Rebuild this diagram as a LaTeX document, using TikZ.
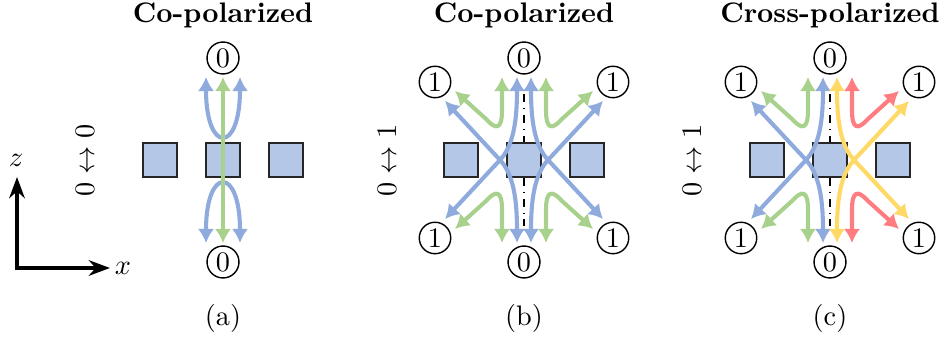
\documentclass[tikz,border=0pt]{standalone}
\usetikzlibrary{arrows.meta}

\definecolor{beamblue}{HTML}{8FAADC}
\definecolor{beamgreen}{HTML}{A9D18E}
\definecolor{beamred}{HTML}{FF7C80}
\definecolor{beamyellow}{HTML}{FFD966}
\definecolor{cellfill}{HTML}{B4C7E7}

\tikzset{
  cell/.style={draw=black!85, fill=cellfill, line width=0.6pt,
    minimum size=12pt, inner sep=0pt},
  port/.style={draw, circle, inner sep=1pt, line width=0.5pt, fill=white},
  beam/.style={line width=1.45pt,
    arrows={Latex[length=5pt,width=5.8pt]-Latex[length=5pt,width=5.8pt]}},
  paneltitle/.style={font=\bfseries},
  axisline/.style={line width=1.3pt,
    arrows={Stealth[length=7.5pt,width=5.5pt]-Stealth[length=7.5pt,width=5.5pt]}},
  symline/.style={dash dot, line width=0.4pt},
}

% one side of a panel: a long crossing beam (#1) and a short hooked beam (#2),
% each drawn upwards and mirrored downwards
\newcommand{\beampair}[2]{%
  \foreach \s in {1,-1}{%
    \begin{scope}[yscale=\s]
      \draw[beam,#1] (-7,-83) .. controls (-7,-40) and (-10.4,-14.6) .. (-24,0) -- (-79,59);
      \draw[beam,#2] (-22,-83) -- (-22,-50) .. controls (-22,-30) and (-28,-30) .. (-38,-41) -- (-69,-69);
    \end{scope}}}

% the three cells of a panel, named with a prefix
\newcommand{\cellrow}[1]{%
  \node[cell] (#1-left) at (-63,0) {};
  \node[cell] (#1-mid) at (0,0) {};
  \node[cell] (#1-right) at (63,0) {};}

\begin{document}
\begin{tikzpicture}[x=0.354pt, y=-0.354pt]
\useasboundingbox (0,0) rectangle (947,341);

% coordinate axes
\coordinate (origin) at (17,268);
\coordinate (ztip) at (17,177);
\coordinate (xtip) at (110,268);
\draw[axisline] (ztip) -- (origin) -- (xtip);
\node (zlabel) at (16,160) {$z$};
\node (xlabel) at (123,268) {$x$};

% panel (a)
\node[paneltitle] (title-a) at (223,15) {Co-polarized};
\node[rotate=90] (order-a) at (85,160) {$0\leftrightarrow0$};
\node (cap-a) at (223,318) {(a)};
\begin{scope}[shift={(223,160)}]
  \cellrow{a}
  \draw[beam,beamblue] (-17,-83) .. controls (-17,-6) and (17,-6) .. (17,-83);
  \draw[beam,beamblue] (-17,83) .. controls (-17,6) and (17,6) .. (17,83);
  \draw[beam,beamgreen] (0,83) -- (0,-83);
  \node[port] (a-top) at (0,-102) {0};
  \node[port] (a-bot) at (0,102) {0};
\end{scope}

% panel (b)
\node[paneltitle] (title-b) at (524,15) {Co-polarized};
\node[rotate=90] (order-b) at (387,160) {$0\leftrightarrow1$};
\node (cap-b) at (524,318) {(b)};
\begin{scope}[shift={(524,160)}]
  \draw[symline] (0,-66) -- (0,66);
  \cellrow{b}
  \beampair{beamblue}{beamgreen}
  \begin{scope}[xscale=-1]
    \beampair{beamblue}{beamgreen}
  \end{scope}
  \node[port] (b-top) at (0,-102) {0};
  \node[port] (b-bot) at (0,102) {0};
  \node[port] (b-tl) at (-89,-78) {1};
  \node[port] (b-tr) at (89,-78) {1};
  \node[port] (b-bl) at (-89,78) {1};
  \node[port] (b-br) at (89,78) {1};
\end{scope}

% panel (c)
\node[paneltitle] (title-c) at (830,15) {Cross-polarized};
\node[rotate=90] (order-c) at (692,160) {$0\leftrightarrow1$};
\node (cap-c) at (830,318) {(c)};
\begin{scope}[shift={(830,160)}]
  \draw[symline] (0,-66) -- (0,66);
  \cellrow{c}
  \beampair{beamblue}{beamgreen}
  \begin{scope}[xscale=-1]
    \beampair{beamyellow}{beamred}
  \end{scope}
  \node[port] (c-top) at (0,-102) {0};
  \node[port] (c-bot) at (0,102) {0};
  \node[port] (c-tl) at (-89,-78) {1};
  \node[port] (c-tr) at (89,-78) {1};
  \node[port] (c-bl) at (-89,78) {1};
  \node[port] (c-br) at (89,78) {1};
\end{scope}

\end{tikzpicture}
\end{document}
